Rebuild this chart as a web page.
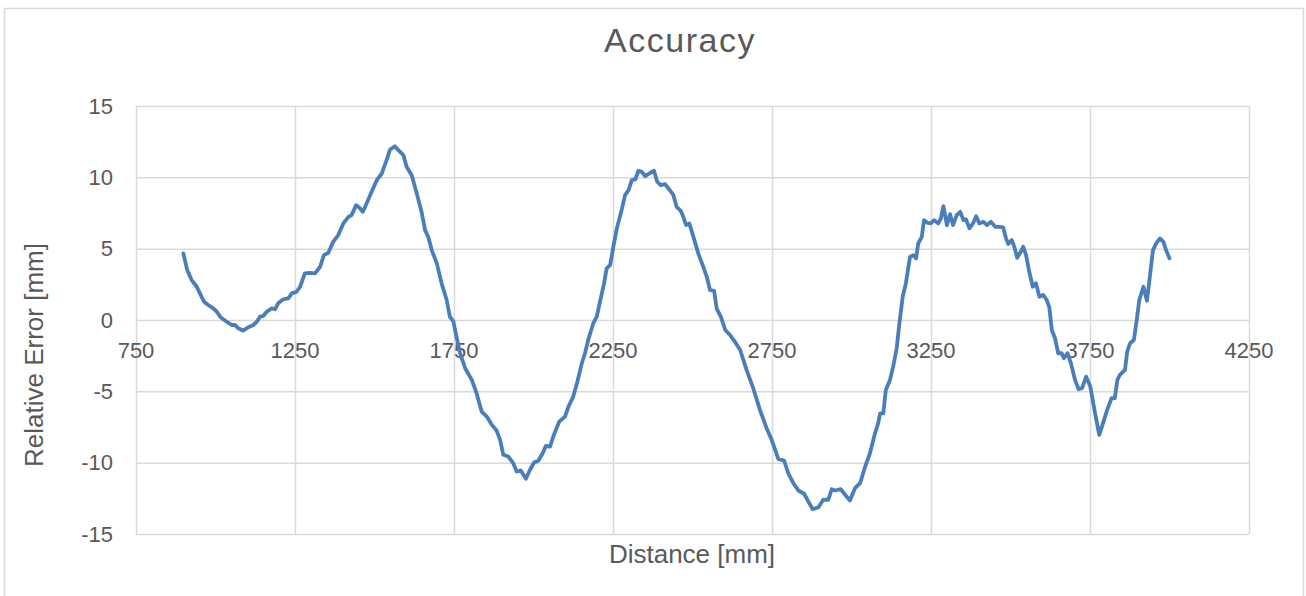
<!DOCTYPE html>
<html>
<head>
<meta charset="utf-8">
<title>Accuracy</title>
<script src="https://cdn.jsdelivr.net/npm/d3@7"></script>
<style>
    body { margin: 0; background: #fff; }
    #chart { width: 1306px; height: 596px; }
    svg text { font-family: "Liberation Sans", Arial, Helvetica, sans-serif; fill: #595959; }
</style>
</head>
<body>
<div id="chart"></div>
<script>
const LINE_COLOR = "#4a7ebb";
const GRID_COLOR = "#d9d9d9";
const FONT = '"Liberation Sans", Arial, Helvetica, sans-serif';

const chartTitle = "Accuracy";
const xTitle = "Distance [mm]";
const yTitle = "Relative Error [mm]";

const xTicks = [750, 1250, 1750, 2250, 2750, 3250, 3750, 4250];
const yTicks = [-15, -10, -5, 0, 5, 10, 15];

const distance = [
    899, 911, 925, 941, 951, 964, 977, 993, 1004, 1016, 1035, 1051, 1061, 1072, 1087, 1103,
    1119, 1130, 1140, 1150, 1161, 1177, 1187, 1197, 1213, 1229, 1240, 1255, 1266, 1281, 1297,
    1313, 1329, 1341, 1355, 1370, 1386, 1402, 1418, 1428, 1442, 1452, 1463, 1475, 1491, 1507,
    1523, 1538, 1549, 1564, 1575, 1591, 1601, 1617, 1633, 1648, 1659, 1669, 1680, 1696, 1711,
    1727, 1737, 1748, 1758, 1769, 1785, 1806, 1821, 1837, 1853, 1869, 1884, 1895, 1905, 1921,
    1936, 1947, 1960, 1976, 1989, 2002, 2015, 2029, 2039, 2052, 2064, 2081, 2099, 2110, 2125,
    2138, 2152, 2162, 2172, 2188, 2199, 2209, 2222, 2230, 2241, 2251, 2262, 2277, 2288, 2299,
    2309, 2320, 2330, 2341, 2351, 2364, 2379, 2389, 2400, 2414, 2427, 2440, 2450, 2463, 2471,
    2480, 2490, 2503, 2518, 2532, 2545, 2555, 2568, 2576, 2589, 2603, 2618, 2634, 2650, 2670,
    2691, 2712, 2733, 2749, 2770, 2788, 2801, 2817, 2833, 2851, 2864, 2878, 2896, 2911, 2927,
    2938, 2948, 2966, 2980, 2995, 3011, 3027, 3043, 3058, 3074, 3084, 3090, 3100, 3108, 3121,
    3131, 3142, 3150, 3161, 3171, 3184, 3194, 3203, 3210, 3221, 3228, 3239, 3249, 3260, 3273,
    3281, 3289, 3300, 3310, 3319, 3331, 3342, 3352, 3360, 3371, 3382, 3392, 3402, 3415, 3426,
    3438, 3452, 3465, 3477, 3486, 3493, 3504, 3512, 3521, 3532, 3540, 3549, 3559, 3570, 3580,
    3591, 3603, 3614, 3622, 3630, 3640, 3650, 3661, 3668, 3679, 3690, 3703, 3714, 3725, 3738,
    3751, 3766, 3779, 3791, 3804, 3818, 3828, 3836, 3844, 3860, 3867, 3876, 3888, 3897, 3905,
    3918, 3929, 3937, 3948, 3958, 3970, 3981, 3989, 4000
];

const relError = [
    4.67, 3.5, 2.8, 2.33, 1.87, 1.28, 1.05, 0.82, 0.58, 0.19, -0.12, -0.35, -0.35, -0.58, -0.75, -0.51,
    -0.35, -0.12, 0.23, 0.28, 0.58, 0.82, 0.75, 1.17, 1.45, 1.52, 1.87, 1.98, 2.33, 3.27, 3.31,
    3.27, 3.73, 4.55, 4.71, 5.48, 5.95, 6.77, 7.23, 7.35, 8.05, 7.89, 7.58, 8.17, 8.99, 9.8,
    10.27, 11.2, 11.95, 12.18, 11.9, 11.55, 10.74, 10.15, 8.87, 7.58, 6.3, 5.83, 4.9, 3.97, 2.57,
    1.4, 0.23, -0.1, -1.2, -2.33, -3.38, -4.2, -5.13, -6.42, -6.77, -7.35, -7.75, -8.4, -9.45, -9.57,
    -10.03, -10.62, -10.55, -11.13, -10.5, -9.99, -9.87, -9.34, -8.82, -8.87, -8.05, -7.12, -6.77, -6.07, -5.37,
    -4.32, -3.03, -2.33, -1.4, -0.23, 0.23, 1.28, 2.57, 3.62, 3.85, 5.13, 6.42, 7.7, 8.75, 9.1,
    9.8, 9.85, 10.46, 10.39, 10.08, 10.27, 10.46, 9.69, 9.45, 9.52, 9.15, 8.75, 7.93, 7.65, 7.23,
    6.65, 6.77, 5.83, 4.67, 3.85, 3.03, 2.1, 2.05, 0.8, 0.23, -0.7, -1.05, -1.55, -2.1, -3.5,
    -4.78, -6.3, -7.58, -8.4, -9.75, -9.85, -10.74, -11.44, -11.95, -12.18, -12.72, -13.26, -13.12, -12.6, -12.6,
    -11.86, -11.95, -11.86, -12.25, -12.65, -11.79, -11.44, -10.27, -9.34, -7.94, -7.23, -6.54, -6.54, -4.9, -4.2,
    -3.27, -2.0, -0.35, 1.63, 2.57, 4.43, 4.55, 4.32, 5.37, 5.83, 7.0, 6.81, 6.77, 7.0, 6.77,
    7.12, 7.98, 6.65, 7.42, 6.65, 7.35, 7.58, 7.0, 7.05, 6.42, 6.77, 7.28, 6.77, 6.88, 6.65,
    6.88, 6.53, 6.53, 6.49, 5.72, 5.32, 5.6, 5.13, 4.36, 4.78, 5.13, 4.55, 3.38, 2.33, 2.57,
    1.63, 1.75, 1.4, 0.9, -0.7, -1.28, -2.33, -2.33, -2.68, -2.33, -3.03, -4.2, -4.85, -4.78, -3.97,
    -4.67, -6.54, -8.05, -7.23, -6.3, -5.48, -5.48, -4.2, -3.85, -3.5, -2.22, -1.63, -1.4, 0, 1.4,
    2.33, 1.35, 2.8, 4.9, 5.37, 5.72, 5.48, 4.9, 4.32
];

class AccuracyVis {
    constructor(_parentElement) {
        this.parentElement = _parentElement;
        this.initVis();
    }

    initVis() {
        let vis = this;

        vis.width = 1306;
        vis.height = 596;
        vis.plot = { left: 136, right: 1249, top: 106, bottom: 534 };

        vis.svg = d3
            .select(`#${vis.parentElement}`)
            .append("svg")
            .attr("width", vis.width)
            .attr("height", vis.height);

        // chart frame
        vis.svg
            .append("rect")
            .attr("x", 4.5)
            .attr("y", 8.5)
            .attr("width", 1299)
            .attr("height", 620)
            .attr("fill", "#fff")
            .attr("stroke", GRID_COLOR)
            .attr("stroke-width", 1.5);

        vis.x = d3
            .scaleLinear()
            .domain([xTicks[0], xTicks[xTicks.length - 1]])
            .range([vis.plot.left, vis.plot.right]);

        vis.y = d3
            .scaleLinear()
            .domain([yTicks[0], yTicks[yTicks.length - 1]])
            .range([vis.plot.bottom, vis.plot.top]);

        vis.wrangleData();
    }

    wrangleData() {
        let vis = this;
        vis.displayData = distance.map((d, i) => ({ x: d, y: relError[i] }));
        vis.updateVis();
    }

    updateVis() {
        let vis = this;

        // vertical grid
        const xAxis = d3
            .axisBottom(vis.x)
            .tickValues(xTicks)
            .tickSize(-(vis.plot.bottom - vis.plot.top))
            .tickFormat("");

        const xg = vis.svg
            .append("g")
            .attr("transform", `translate(0,${vis.plot.bottom})`)
            .call(xAxis);
        xg.select(".domain").remove();
        xg.selectAll("line")
            .attr("stroke", GRID_COLOR)
            .attr("stroke-width", 1.5);

        // horizontal grid + y labels
        const yAxis = d3
            .axisLeft(vis.y)
            .tickValues(yTicks)
            .tickSize(-(vis.plot.right - vis.plot.left))
            .tickPadding(23)
            .tickFormat((d) => String(d));

        const yg = vis.svg
            .append("g")
            .attr("transform", `translate(${vis.plot.left},0)`)
            .call(yAxis);
        yg.attr("font-family", FONT).attr("font-size", 22);
        yg.select(".domain").remove();
        yg.selectAll("line")
            .attr("stroke", GRID_COLOR)
            .attr("stroke-width", 1.5);
        yg.selectAll("text").attr("fill", "#595959");

        // x labels sit under the zero line
        vis.svg
            .append("g")
            .attr("font-family", FONT)
            .attr("font-size", 22)
            .selectAll("text")
            .data(xTicks)
            .enter()
            .append("text")
            .attr("x", (d) => vis.x(d))
            .attr("y", vis.y(0) + 38)
            .attr("text-anchor", "middle")
            .attr("fill", "#595959")
            .text((d) => String(d));

        // the data line
        const line = d3
            .line()
            .x((d) => vis.x(d.x))
            .y((d) => vis.y(d.y));

        vis.svg
            .append("path")
            .datum(vis.displayData)
            .attr("d", line)
            .attr("fill", "none")
            .attr("stroke", LINE_COLOR)
            .attr("stroke-width", 3.8)
            .attr("stroke-linejoin", "round")
            .attr("stroke-linecap", "round");

        // titles
        vis.svg
            .append("text")
            .attr("x", 680)
            .attr("y", 52)
            .attr("text-anchor", "middle")
            .attr("font-family", FONT)
            .attr("font-size", 34)
            .attr("letter-spacing", 1.5)
            .text(chartTitle);

        vis.svg
            .append("text")
            .attr("x", 692)
            .attr("y", 563)
            .attr("text-anchor", "middle")
            .attr("font-family", FONT)
            .attr("font-size", 26)
            .text(xTitle);

        vis.svg
            .append("text")
            .attr("transform", "translate(43,355) rotate(-90)")
            .attr("text-anchor", "middle")
            .attr("font-family", FONT)
            .attr("font-size", 26)
            .text(yTitle);
    }
}

new AccuracyVis("chart");
</script>
</body>
</html>
